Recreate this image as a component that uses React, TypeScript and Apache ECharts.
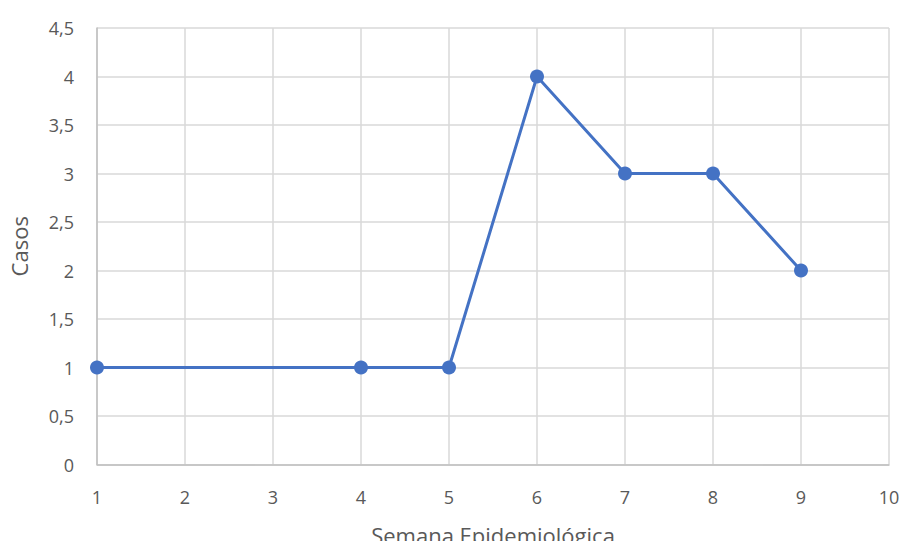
import React, { useEffect, useRef } from "react";
import * as echarts from "echarts";

const weeks = [1, 4, 5, 6, 7, 8, 9];
const cases = [1, 1, 1, 4, 3, 3, 2];
const xTitle = "Semana Epidemiológica";
const yTitle = "Casos";

export default function App() {
  const ref = useRef<HTMLDivElement>(null);
  useEffect(() => {
    const chart = echarts.init(ref.current!, null, { renderer: "svg" });
    const font = "'Open Sans', 'Noto Sans', sans-serif";
    chart.setOption({
      animation: false,
      backgroundColor: "#ffffff",
      grid: {
        left: 97,
        right: 10,
        top: 28,
        bottom: 76.5,
        containLabel: false,
        outerBoundsMode: "none",
      },
      xAxis: {
        type: "value",
        min: 1,
        max: 10,
        interval: 1,
        name: xTitle,
        nameLocation: "middle",
        nameGap: 59,
        nameTextStyle: { fontSize: 22, color: "#595959", fontFamily: font },
        axisLine: { show: true, lineStyle: { color: "#bfbfbf", width: 1.5 } },
        axisTick: { show: false },
        axisLabel: { fontSize: 18, color: "#595959", fontFamily: font, margin: 23 },
        splitLine: { show: true, lineStyle: { color: "#d9d9d9", width: 1.5 } },
      },
      yAxis: {
        type: "value",
        min: 0,
        max: 4.5,
        interval: 0.5,
        name: yTitle,
        nameLocation: "middle",
        nameGap: 67,
        nameRotate: 90,
        nameTextStyle: { fontSize: 22, color: "#595959", fontFamily: font },
        axisLine: { show: true, lineStyle: { color: "#bfbfbf", width: 1.5 } },
        axisTick: { show: false },
        axisLabel: {
          fontSize: 18,
          color: "#595959",
          fontFamily: font,
          margin: 23,
          formatter: (v: number) => String(v).replace(".", ","),
        },
        splitLine: { show: true, lineStyle: { color: "#d9d9d9", width: 1.5 } },
      },
      series: [
        {
          type: "line",
          data: weeks.map((w, i) => [w, cases[i]]),
          symbol: "circle",
          symbolSize: 14,
          lineStyle: { color: "#4472C4", width: 3 },
          itemStyle: { color: "#4472C4" },
        },
      ],
    });
    return () => chart.dispose();
  }, []);
  return (
    <div
      ref={ref}
      style={{ position: "fixed", left: 0, top: 0, width: 899, height: 541 }}
    />
  );
}
